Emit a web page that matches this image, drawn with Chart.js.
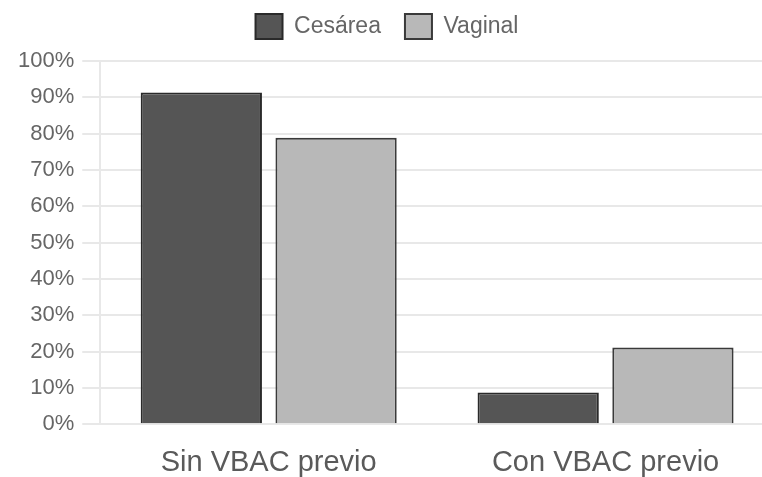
<!DOCTYPE html>
<html>
<head>
<meta charset="utf-8">
<script src="https://cdn.jsdelivr.net/npm/chart.js@4"></script>
<style>
  html, body { margin: 0; padding: 0; background: #fff; overflow: hidden; width: 762px; height: 477px; }
  #wrap { width: 776px; height: 515px; margin-top: -14px; }
</style>
</head>
<body>
<div id="wrap"><canvas id="c" width="776" height="515"></canvas></div>
<script>
const categories = ["Sin VBAC previo", "Con VBAC previo"];
const cesarea = [91.3, 8.7];
const vaginal = [78.9, 21.1];
const seriesNames = ["Cesárea", "Vaginal"];
const yTicks = [0, 10, 20, 30, 40, 50, 60, 70, 80, 90, 100];

const FONT = "'Liberation Sans', Arial, sans-serif";

const legendGap = {
  id: 'legendGap',
  beforeInit(chart) {
    const orig = chart.legend.fit;
    chart.legend.fit = function () {
      orig.bind(chart.legend)();
      this.height += 12;
    };
  },
  afterLayout(chart) {
    const lg = chart.legend;
    if (lg) { lg.left -= 5; lg.right -= 5; }
  }
};

new Chart(document.getElementById('c'), {
  type: 'bar',
  data: {
    labels: categories,
    datasets: [
      { label: seriesNames[0], data: cesarea, backgroundColor: '#555555', borderColor: '#2a2a2a', borderWidth: 2 },
      { label: seriesNames[1], data: vaginal, backgroundColor: '#b8b8b8', borderColor: '#3a3a3a', borderWidth: 2 }
    ]
  },
  plugins: [legendGap],
  options: {
    responsive: false,
    animation: false,
    layout: { padding: { left: 10, right: 2, top: 4, bottom: 0 } },
    plugins: {
      legend: {
        position: 'top',
        labels: {
          boxWidth: 27,
          boxHeight: 25,
          padding: 24,
          color: '#666',
          font: { family: FONT, size: 23 }
        }
      },
      tooltip: { enabled: false }
    },
    scales: {
      x: {
        grid: { display: false, drawTicks: false },
        border: { display: false },
        ticks: { color: '#5a5a5a', padding: 21, font: { family: FONT, size: 29 } }
      },
      y: {
        min: 0, max: 100,
        afterBuildTicks: (scale) => { scale.ticks = yTicks.map(v => ({ value: v })); },
        grid: { color: '#e8e8e8', lineWidth: 2, tickLength: 18 },
        border: { display: true, color: '#e8e8e8', width: 2 },
        ticks: {
          color: '#666', padding: 8,
          font: { family: FONT, size: 22 },
          callback: (v) => v + '%'
        }
      }
    }
  }
});
</script>
</body>
</html>
